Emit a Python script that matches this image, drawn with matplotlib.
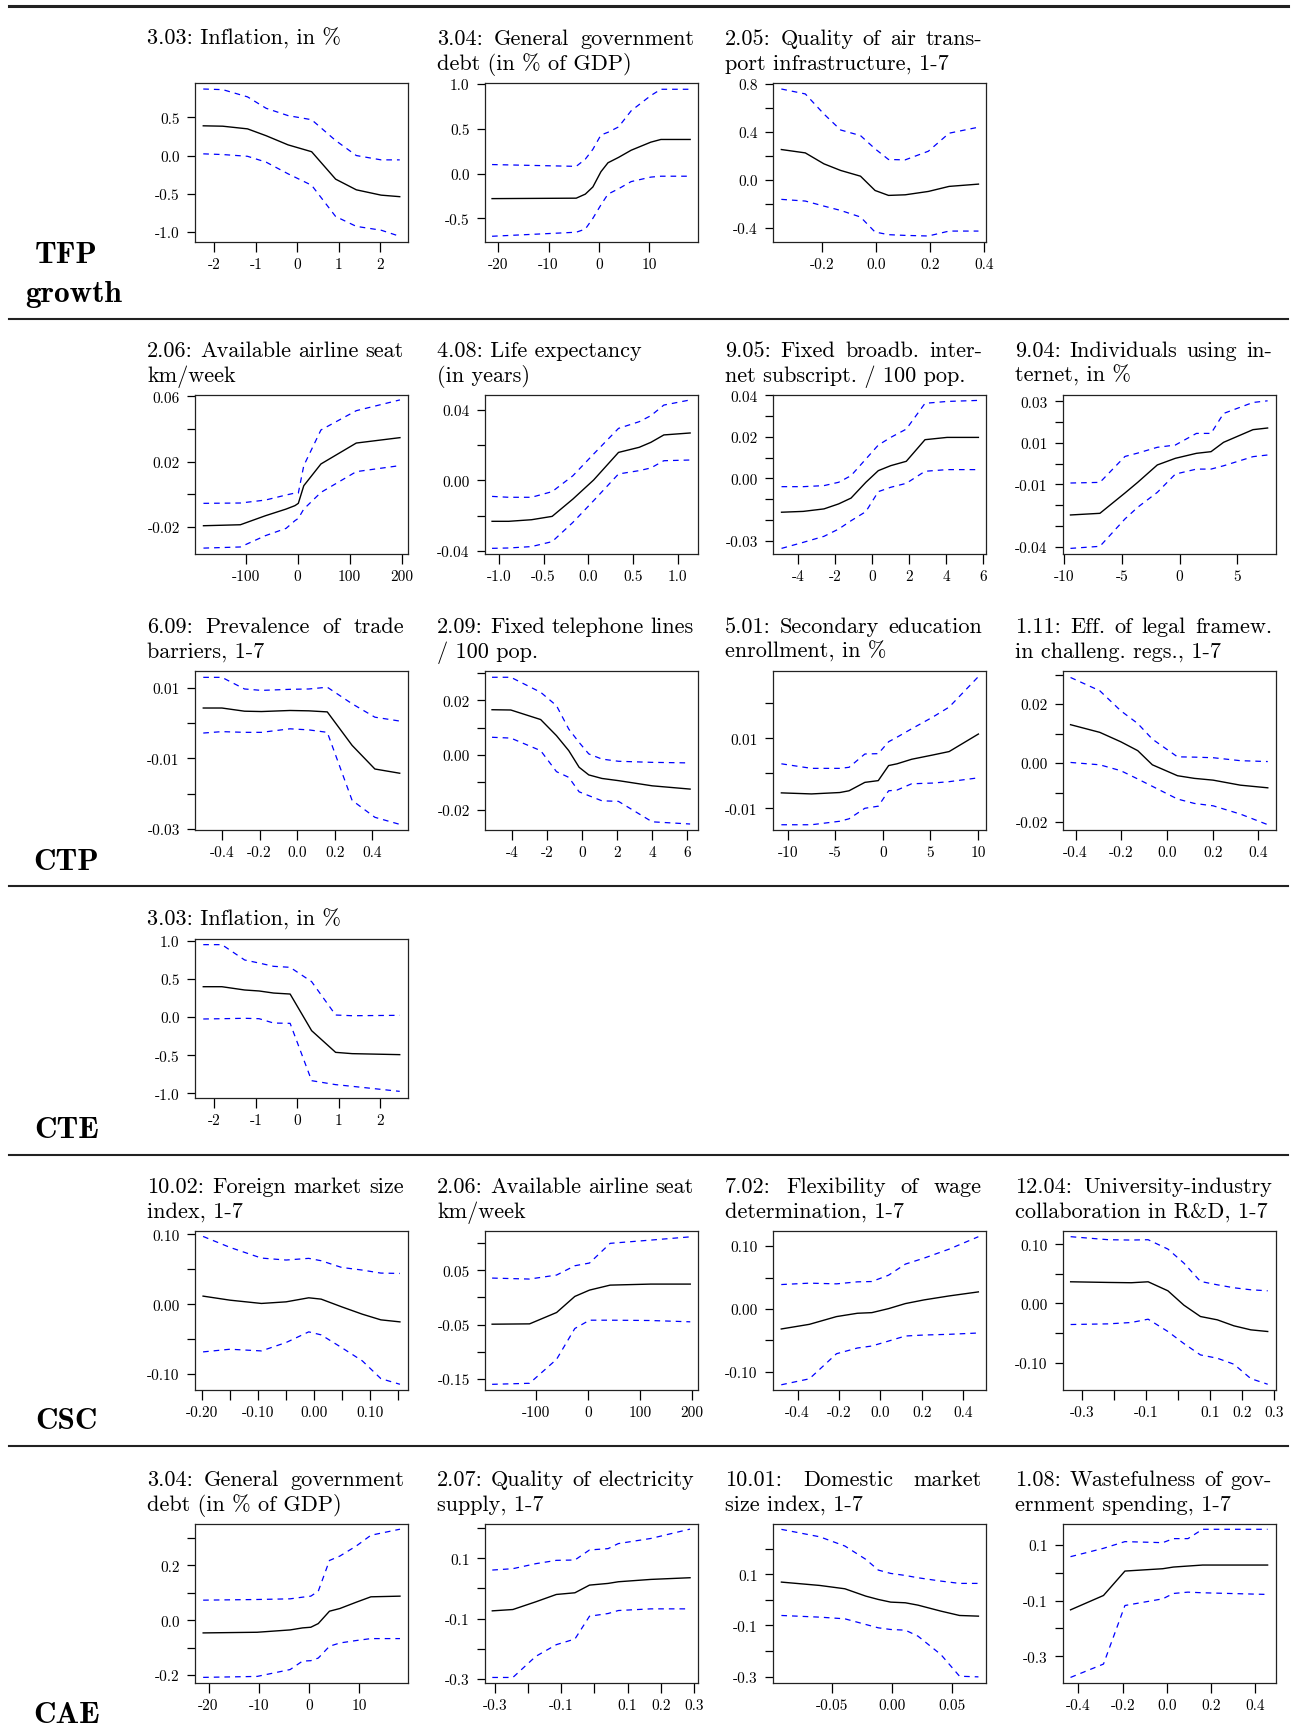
import matplotlib.pyplot as plt
from matplotlib.lines import Line2D

plt.rcParams['font.family'] = 'cmr10'
plt.rcParams['axes.unicode_minus'] = False

W, H = 1295, 1733

# ---------------- data ----------------
# TFP growth
tfp_inf_x = [-2.27, -1.8, -1.2, -0.75, -0.22, 0.35, 0.93, 1.43, 2.03, 2.48]
tfp_inf_mid = [0.39, 0.385, 0.35, 0.26, 0.14, 0.05, -0.31, -0.45, -0.52, -0.54]
tfp_inf_up = [0.873, 0.865, 0.77, 0.62, 0.524, 0.47, 0.197, 0.0, -0.057, -0.057]
tfp_inf_lo = [0.022, 0.013, -0.01, -0.087, -0.24, -0.39, -0.80, -0.93, -0.98, -1.06]

tfp_debt_x = [-21.2, -4.5, -2.7, -1.2, 0.4, 1.8, 3.9, 6.4, 10.3, 12.3, 18.1]
tfp_debt_mid = [-0.28, -0.275, -0.23, -0.15, 0.02, 0.12, 0.18, 0.26, 0.35, 0.38, 0.38]
tfp_debt_up = [0.10, 0.08, 0.16, 0.27, 0.43, 0.46, 0.52, 0.70, 0.87, 0.94, 0.94]
tfp_debt_lo = [-0.70, -0.655, -0.62, -0.50, -0.35, -0.23, -0.17, -0.09, -0.04, -0.03, -0.03]

tfp_air_x = [-0.352, -0.263, -0.194, -0.132, -0.058, -0.004, 0.046, 0.108, 0.194, 0.271, 0.38]
tfp_air_mid = [0.252, 0.224, 0.133, 0.078, 0.030, -0.089, -0.130, -0.125, -0.097, -0.055, -0.036]
tfp_air_up = [0.756, 0.715, 0.548, 0.415, 0.368, 0.258, 0.169, 0.166, 0.238, 0.388, 0.438]
tfp_air_lo = [-0.163, -0.177, -0.219, -0.255, -0.31, -0.435, -0.457, -0.463, -0.468, -0.427, -0.427]

# CTP
ctp_seat_x = [-181, -110, -62, -22, -5, 1.5, 12, 45, 113, 197]
ctp_seat_mid = [-0.0192, -0.0186, -0.0131, -0.009, -0.0069, -0.0055, 0.0053, 0.0186, 0.0314, 0.0347]
ctp_seat_up = [-0.0055, -0.0053, -0.0035, -0.0004, 0.0008, 0.0008, 0.0176, 0.0394, 0.0512, 0.0578]
ctp_seat_lo = [-0.0329, -0.0322, -0.0253, -0.0208, -0.0161, -0.0147, -0.009, 0.0012, 0.0139, 0.0176]

ctp_life_x = [-1.076, -0.89, -0.635, -0.404, -0.172, 0.06, 0.338, 0.57, 0.70, 0.845, 1.139]
ctp_life_mid = [-0.0232, -0.0232, -0.0223, -0.0204, -0.0106, 0.0002, 0.0158, 0.0187, 0.0215, 0.0257, 0.0268]
ctp_life_up = [-0.0091, -0.0096, -0.0096, -0.0064, 0.0026, 0.0149, 0.0294, 0.0332, 0.0366, 0.0426, 0.0455]
ctp_life_lo = [-0.0385, -0.0383, -0.0375, -0.0347, -0.0238, -0.0115, 0.0036, 0.0055, 0.007, 0.0111, 0.0115]

ctp_bb_x = [-4.88, -3.71, -2.59, -1.80, -1.13, -0.33, 0.34, 1.01, 1.85, 2.86, 4.05, 5.74]
ctp_bb_mid = [-0.0163, -0.0159, -0.0147, -0.0123, -0.0095, -0.0019, 0.0037, 0.0061, 0.0082, 0.0186, 0.0197, 0.0197]
ctp_bb_up = [-0.004, -0.004, -0.0035, -0.0019, 0.0013, 0.0093, 0.016, 0.0197, 0.0237, 0.0361, 0.037, 0.0375]
ctp_bb_lo = [-0.0337, -0.0308, -0.0279, -0.0244, -0.0204, -0.016, -0.0064, -0.0043, -0.0024, 0.0034, 0.0042, 0.0042]

ctp_net_x = [-9.48, -6.92, -4.74, -3.64, -1.93, -0.36, 1.47, 2.74, 3.83, 6.39, 7.66]
ctp_net_mid = [-0.0247, -0.0239, -0.0141, -0.009, -0.0006, 0.0026, 0.005, 0.0058, 0.0103, 0.0164, 0.0172]
ctp_net_up = [-0.0093, -0.009, 0.0035, 0.0051, 0.0079, 0.009, 0.0146, 0.0146, 0.0242, 0.0295, 0.0303]
ctp_net_lo = [-0.0408, -0.0398, -0.0266, -0.021, -0.0138, -0.005, -0.0026, -0.0026, -0.001, 0.0034, 0.0042]

ctp_trade_x = [-0.499, -0.40, -0.28, -0.19, -0.038, 0.062, 0.16, 0.292, 0.413, 0.545]
ctp_trade_mid = [0.0043, 0.0043, 0.0034, 0.0033, 0.0036, 0.0035, 0.0032, -0.0063, -0.013, -0.0142]
ctp_trade_up = [0.013, 0.013, 0.0097, 0.0093, 0.0096, 0.0097, 0.0102, 0.0055, 0.0017, 0.0006]
ctp_trade_lo = [-0.0028, -0.0024, -0.0026, -0.0026, -0.0016, -0.0019, -0.0026, -0.0219, -0.0267, -0.0287]

ctp_tel_x = [-5.13, -4.06, -2.36, -1.46, -0.76, -0.17, 0.38, 1.13, 2.07, 3.99, 6.15]
ctp_tel_mid = [0.0166, 0.0165, 0.013, 0.0071, 0.0016, -0.0045, -0.0073, -0.0086, -0.0094, -0.0113, -0.0125]
ctp_tel_up = [0.0285, 0.0285, 0.023, 0.0181, 0.0095, 0.0046, 0.0004, -0.0015, -0.0023, -0.0027, -0.0029]
ctp_tel_lo = [0.0065, 0.0062, 0.0016, -0.0061, -0.0082, -0.0135, -0.0149, -0.0168, -0.017, -0.0245, -0.0253]

ctp_edu_x = [-10.66, -7.5, -4.52, -3.55, -1.89, -0.48, 0.61, 1.49, 3.03, 5.22, 6.97, 10.04]
ctp_edu_mid = [-0.0056, -0.0059, -0.0055, -0.005, -0.0026, -0.0021, 0.0022, 0.0027, 0.004, 0.0052, 0.0062, 0.0112]
ctp_edu_up = [0.0027, 0.0014, 0.0014, 0.0017, 0.0055, 0.0056, 0.009, 0.0103, 0.0127, 0.016, 0.0189, 0.0276]
ctp_edu_lo = [-0.0147, -0.0147, -0.0137, -0.013, -0.01, -0.0094, -0.005, -0.0048, -0.003, -0.0028, -0.0024, -0.0013]

ctp_legal_x = [-0.422, -0.294, -0.202, -0.128, -0.064, 0.046, 0.12, 0.202, 0.321, 0.441]
ctp_legal_mid = [0.013, 0.0104, 0.0072, 0.0042, -0.0006, -0.0043, -0.0052, -0.0058, -0.0075, -0.0084]
ctp_legal_up = [0.029, 0.0245, 0.0177, 0.0134, 0.0081, 0.0021, 0.002, 0.0018, 0.0008, 0.0005]
ctp_legal_lo = [0.0002, -0.0006, -0.0026, -0.0054, -0.0079, -0.0122, -0.0137, -0.0145, -0.0173, -0.0209]

# CTE
cte_inf_x = [-2.27, -1.82, -1.27, -0.92, -0.57, -0.17, 0.35, 0.93, 1.33, 2.48]
cte_inf_mid = [0.397, 0.397, 0.354, 0.341, 0.314, 0.301, -0.179, -0.463, -0.48, -0.493]
cte_inf_up = [0.948, 0.948, 0.747, 0.707, 0.664, 0.651, 0.463, 0.026, 0.017, 0.022]
cte_inf_lo = [-0.026, -0.022, -0.017, -0.022, -0.079, -0.083, -0.834, -0.886, -0.908, -0.974]

# CSC
csc_fms_x = [-0.198, -0.150, -0.094, -0.05, -0.0096, 0.0125, 0.049, 0.086, 0.119, 0.153]
csc_fms_mid = [0.0115, 0.0057, 0.001, 0.0033, 0.0091, 0.0072, -0.0038, -0.0144, -0.0225, -0.0254]
csc_fms_up = [0.097, 0.0813, 0.066, 0.0632, 0.0656, 0.0622, 0.0526, 0.0488, 0.0445, 0.044]
csc_fms_lo = [-0.0684, -0.0646, -0.067, -0.055, -0.0397, -0.044, -0.0622, -0.0813, -0.1067, -0.1148]

csc_seat_x = [-184, -112, -60, -25, 3.3, 43, 121, 197]
csc_seat_mid = [-0.0494, -0.0488, -0.0278, 0.0019, 0.0136, 0.0228, 0.0247, 0.0247]
csc_seat_up = [0.0358, 0.034, 0.0414, 0.0586, 0.0636, 0.1, 0.106, 0.112]
csc_seat_lo = [-0.1605, -0.1586, -0.1142, -0.0574, -0.042, -0.042, -0.0426, -0.045]

csc_wage_x = [-0.479, -0.343, -0.212, -0.111, -0.041, 0.04, 0.121, 0.212, 0.333, 0.474]
csc_wage_mid = [-0.0319, -0.0245, -0.0122, -0.0069, -0.0059, 0.0005, 0.0085, 0.0144, 0.0207, 0.0271]
csc_wage_up = [0.0388, 0.041, 0.0399, 0.0431, 0.0436, 0.0537, 0.0713, 0.0809, 0.0952, 0.1149]
csc_wage_lo = [-0.1207, -0.1112, -0.0713, -0.0622, -0.059, -0.0511, -0.0431, -0.0415, -0.0404, -0.0383]

csc_uni_x = [-0.337, -0.219, -0.147, -0.094, -0.032, 0.018, 0.07, 0.123, 0.175, 0.228, 0.281]
csc_uni_mid = [0.0366, 0.0355, 0.035, 0.0366, 0.0214, -0.0028, -0.022, -0.0276, -0.0377, -0.0445, -0.0473]
csc_uni_up = [0.1127, 0.1076, 0.107, 0.1076, 0.0918, 0.0682, 0.0372, 0.0315, 0.0265, 0.0231, 0.0214]
csc_uni_lo = [-0.0355, -0.0344, -0.0321, -0.0265, -0.0473, -0.0676, -0.0868, -0.0924, -0.1025, -0.1268, -0.1363]

# CAE
cae_debt_x = [-21.07, -10.3, -3.72, -1.24, 0.41, 1.9, 4.13, 6.2, 9.5, 12.4, 18.2]
cae_debt_mid = [-0.0463, -0.0439, -0.0354, -0.028, -0.0256, -0.0122, 0.0329, 0.0427, 0.0659, 0.0854, 0.0878]
cae_debt_up = [0.0732, 0.0756, 0.078, 0.0841, 0.0878, 0.106, 0.218, 0.234, 0.271, 0.31, 0.332]
cae_debt_lo = [-0.2085, -0.205, -0.18, -0.149, -0.1476, -0.138, -0.095, -0.083, -0.074, -0.067, -0.067]

cae_elec_x = [-0.308, -0.246, -0.177, -0.115, -0.059, -0.015, 0.041, 0.072, 0.17, 0.288]
cae_elec_mid = [-0.0744, -0.07, -0.0444, -0.02, -0.0144, 0.0111, 0.0167, 0.0222, 0.03, 0.0356]
cae_elec_up = [0.0611, 0.0656, 0.0822, 0.0933, 0.0944, 0.1278, 0.1322, 0.149, 0.166, 0.197]
cae_elec_lo = [-0.2956, -0.2956, -0.2256, -0.1867, -0.168, -0.0922, -0.0833, -0.0733, -0.0678, -0.0678]

cae_dms_x = [-0.0917, -0.0598, -0.0389, -0.0215, -0.0111, -0.0008, 0.0114, 0.0219, 0.041, 0.0565, 0.0722]
cae_dms_mid = [0.0691, 0.056, 0.043, 0.0143, 0.0013, -0.0091, -0.0117, -0.0209, -0.0443, -0.0613, -0.0639]
cae_dms_up = [0.275, 0.246, 0.21, 0.158, 0.116, 0.103, 0.095, 0.086, 0.073, 0.064, 0.064]
cae_dms_lo = [-0.0613, -0.0678, -0.0743, -0.0965, -0.1095, -0.116, -0.1186, -0.142, -0.214, -0.2986, -0.301]

cae_waste_x = [-0.436, -0.287, -0.19, -0.019, 0.029, 0.095, 0.161, 0.455]
cae_waste_mid = [-0.1333, -0.0817, 0.006, 0.0144, 0.0204, 0.024, 0.0276, 0.0276]
cae_waste_up = [0.0577, 0.0877, 0.1117, 0.108, 0.1225, 0.1225, 0.156, 0.156]
cae_waste_lo = [-0.376, -0.328, -0.1177, -0.0937, -0.0745, -0.0697, -0.072, -0.078]

# tick sets and labels ('' = tick without label)
t_inf = [-2, -1, 0, 1, 2]
l_inf = ['-2', '-1', '0', '1', '2']
t_debt = [-20, -10, 0, 10]
l_debt = ['-20', '-10', '0', '10']
t_seat = [-100, 0, 100, 200]
l_seat = ['-100', '0', '100', '200']
t_04 = [-0.4, -0.2, 0.0, 0.2, 0.4]
l_04 = ['-0.4', '-0.2', '0.0', '0.2', '0.4']
t_03 = [-0.3, -0.2, -0.1, 0.0, 0.1, 0.2, 0.3]
l_03 = ['-0.3', '', '-0.1', '', '0.1', '0.2', '0.3']

# (row, col, title lines, x, mid, up, lo, xlim, ylim, xticks, xlabels, yticks, ylabels)
panels = [
    (0, 0, ['3.03: Inflation, in %'], tfp_inf_x, tfp_inf_mid, tfp_inf_up, tfp_inf_lo,
     (-2.47, 2.68), (-1.135, 0.952), t_inf, l_inf,
     [-1.0, -0.5, 0.0, 0.5], ['-1.0', '-0.5', '0.0', '0.5']),
    (0, 1, ['3.04: General government', 'debt (in % of GDP)'], tfp_debt_x, tfp_debt_mid, tfp_debt_up, tfp_debt_lo,
     (-22.6, 19.66), (-0.764, 1.01), t_debt, l_debt,
     [-0.5, 0.0, 0.5, 1.0], ['-0.5', '0.0', '0.5', '1.0']),
    (0, 2, ['2.05: Quality of air trans-', 'port infrastructure, 1-7'], tfp_air_x, tfp_air_mid, tfp_air_up, tfp_air_lo,
     (-0.383, 0.408), (-0.518, 0.806), [-0.2, 0.0, 0.2, 0.4], ['-0.2', '0.0', '0.2', '0.4'],
     [-0.4, -0.2, 0.0, 0.2, 0.4, 0.6, 0.8], ['-0.4', '', '0.0', '', '0.4', '', '0.8']),
    (1, 0, ['2.06: Available airline seat', 'km/week'], ctp_seat_x, ctp_seat_mid, ctp_seat_up, ctp_seat_lo,
     (-197.3, 212.5), (-0.0365, 0.0608), t_seat, l_seat,
     [-0.02, 0.0, 0.02, 0.04, 0.06], ['-0.02', '', '0.02', '', '0.06']),
    (1, 1, ['4.08: Life expectancy', '(in years)'], ctp_life_x, ctp_life_mid, ctp_life_up, ctp_life_lo,
     (-1.155, 1.227), (-0.0417, 0.0483), [-1.0, -0.5, 0.0, 0.5, 1.0], ['-1.0', '-0.5', '0.0', '0.5', '1.0'],
     [-0.04, -0.02, 0.0, 0.02, 0.04], ['-0.04', '', '0.00', '', '0.04']),
    (1, 2, ['9.05: Fixed broadb. inter-', 'net subscript. / 100 pop.'], ctp_bb_x, ctp_bb_mid, ctp_bb_up, ctp_bb_lo,
     (-5.34, 6.15), (-0.0364, 0.0401), [-4, -2, 0, 2, 4, 6], ['-4', '-2', '0', '2', '4', '6'],
     [-0.03, -0.02, -0.01, 0.0, 0.01, 0.02, 0.03, 0.04], ['-0.03', '', '', '0.00', '', '0.02', '', '0.04']),
    (1, 3, ['9.04: Individuals using in-', 'ternet, in %'], ctp_net_x, ctp_net_mid, ctp_net_up, ctp_net_lo,
     (-10.13, 8.39), (-0.0435, 0.0331), [-10, -5, 0, 5], ['-10', '-5', '0', '5'],
     [-0.04, -0.03, -0.02, -0.01, 0.0, 0.01, 0.02, 0.03], ['-0.04', '', '', '-0.01', '', '0.01', '', '0.03']),
    (2, 0, ['6.09: Prevalence of trade', 'barriers, 1-7'], ctp_trade_x, ctp_trade_mid, ctp_trade_up, ctp_trade_lo,
     (-0.543, 0.589), (-0.0303, 0.0148), t_04, l_04,
     [-0.03, -0.02, -0.01, 0.0, 0.01], ['-0.03', '', '-0.01', '', '0.01']),
    (2, 1, ['2.09: Fixed telephone lines', '/ 100 pop.'], ctp_tel_x, ctp_tel_mid, ctp_tel_up, ctp_tel_lo,
     (-5.53, 6.6), (-0.0275, 0.0308), [-4, -2, 0, 2, 4, 6], ['-4', '-2', '0', '2', '4', '6'],
     [-0.02, -0.01, 0.0, 0.01, 0.02, 0.03], ['-0.02', '', '0.00', '', '0.02', '']),
    (2, 2, ['5.01: Secondary education', 'enrollment, in %'], ctp_edu_x, ctp_edu_mid, ctp_edu_up, ctp_edu_lo,
     (-11.54, 10.84), (-0.0162, 0.0292), [-10, -5, 0, 5, 10], ['-10', '-5', '0', '5', '10'],
     [-0.01, 0.0, 0.01, 0.02], ['-0.01', '', '0.01', '']),
    (2, 3, ['1.11: Eff. of legal framew.', 'in challeng. regs., 1-7'], ctp_legal_x, ctp_legal_mid, ctp_legal_up, ctp_legal_lo,
     (-0.455, 0.477), (-0.0227, 0.0312), t_04, l_04,
     [-0.02, -0.01, 0.0, 0.01, 0.02, 0.03], ['-0.02', '', '0.00', '', '0.02', '']),
    (3, 0, ['3.03: Inflation, in %'], cte_inf_x, cte_inf_mid, cte_inf_up, cte_inf_lo,
     (-2.47, 2.68), (-1.061, 1.022), t_inf, l_inf,
     [-1.0, -0.5, 0.0, 0.5, 1.0], ['-1.0', '-0.5', '0.0', '0.5', '1.0']),
    (4, 0, ['10.02: Foreign market size', 'index, 1-7'], csc_fms_x, csc_fms_mid, csc_fms_up, csc_fms_lo,
     (-0.2124, 0.1674), (-0.123, 0.1048),
     [-0.2, -0.15, -0.1, -0.05, 0.0, 0.05, 0.1, 0.15], ['-0.20', '', '-0.10', '', '0.00', '', '0.10', ''],
     [-0.1, -0.05, 0.0, 0.05, 0.1], ['-0.10', '', '0.00', '', '0.10']),
    (4, 1, ['2.06: Available airline seat', 'km/week'], csc_seat_x, csc_seat_mid, csc_seat_up, csc_seat_lo,
     (-197.7, 211.9), (-0.171, 0.1228), t_seat, l_seat,
     [-0.15, -0.1, -0.05, 0.0, 0.05, 0.1], ['-0.15', '', '-0.05', '', '0.05', '']),
    (4, 2, ['7.02: Flexibility of wage', 'determination, 1-7'], csc_wage_x, csc_wage_mid, csc_wage_up, csc_wage_lo,
     (-0.519, 0.511), (-0.129, 0.124), t_04, l_04,
     [-0.1, -0.05, 0.0, 0.05, 0.1], ['-0.10', '', '0.00', '', '0.10']),
    (4, 3, ['12.04: University-industry', 'collaboration in R&D, 1-7'], csc_uni_x, csc_uni_mid, csc_uni_up, csc_uni_lo,
     (-0.361, 0.307), (-0.146, 0.1223), t_03, l_03,
     [-0.1, -0.05, 0.0, 0.05, 0.1], ['-0.10', '', '0.00', '', '0.10']),
    (5, 0, ['3.04: General government', 'debt (in % of GDP)'], cae_debt_x, cae_debt_mid, cae_debt_up, cae_debt_lo,
     (-22.7, 19.8), (-0.229, 0.351), t_debt, l_debt,
     [-0.2, -0.1, 0.0, 0.1, 0.2, 0.3], ['-0.2', '', '0.0', '', '0.2', '']),
    (5, 1, ['2.07: Quality of electricity', 'supply, 1-7'], cae_elec_x, cae_elec_mid, cae_elec_up, cae_elec_lo,
     (-0.33, 0.312), (-0.314, 0.214), t_03, l_03,
     [-0.3, -0.2, -0.1, 0.0, 0.1, 0.2], ['-0.3', '', '-0.1', '', '0.1', '']),
    (5, 2, ['10.01: Domestic market', 'size index, 1-7'], cae_dms_x, cae_dms_mid, cae_dms_up, cae_dms_lo,
     (-0.0987, 0.0785), (-0.325, 0.296), [-0.05, 0.0, 0.05], ['-0.05', '0.00', '0.05'],
     [-0.3, -0.2, -0.1, 0.0, 0.1, 0.2], ['-0.3', '', '-0.1', '', '0.1', '']),
    (5, 3, ['1.08: Wastefulness of gov-', 'ernment spending, 1-7'], cae_waste_x, cae_waste_mid, cae_waste_up, cae_waste_lo,
     (-0.47, 0.493), (-0.396, 0.175), t_04, l_04,
     [-0.3, -0.2, -0.1, 0.0, 0.1], ['-0.3', '', '-0.1', '', '0.1']),
]
no_justify = {'4.08: Life expectancy'}

# ---------------- layout (pixels) ----------------
col_left = [195, 485, 773, 1063]
row_top = [84, 396, 672, 940, 1232, 1525]
title_base = [45, 357, 633, 926, 1193, 1486]   # baseline of first title line per row
BW, BH = 213, 159
TW = 257          # justified title width
TFS = 16          # title font size

fig = plt.figure(figsize=(W / 100, H / 100), dpi=100)
renderer = fig.canvas.get_renderer()


def title_line(x0, ybase, text, justify):
    words = text.split(' ')
    if not justify or len(words) == 1:
        fig.text(x0 / W, 1 - ybase / H, text, fontsize=TFS, va='baseline', ha='left')
        return
    ts = [fig.text(0, 1 - ybase / H, w, fontsize=TFS, va='baseline', ha='left') for w in words]
    ws = [t.get_window_extent(renderer).width for t in ts]
    gap = (TW - sum(ws)) / (len(words) - 1)
    xx = x0
    for t, w in zip(ts, ws):
        t.set_x(xx / W)
        xx += w + gap


for (r, c, title, x, mid, up, lo, xlim, ylim, xt, xl, yt, yl) in panels:
    left, top = col_left[c], row_top[r]
    ax = fig.add_axes([left / W, 1 - (top + BH) / H, BW / W, BH / H])
    ax.plot(x, up, color='#0000ff', lw=0.9, ls=(0, (4.5, 4)))
    ax.plot(x, lo, color='#0000ff', lw=0.9, ls=(0, (4.5, 4)))
    ax.plot(x, mid, color='black', lw=1.0)
    ax.set_xlim(xlim)
    ax.set_ylim(ylim)
    ax.set_xticks(xt, xl)
    ax.set_yticks(yt, yl)
    ax.tick_params(axis='x', length=7, width=0.9, pad=4, labelsize=11)
    ax.tick_params(axis='y', length=6, width=0.9, pad=5, labelsize=11)
    for s in ax.spines.values():
        s.set_linewidth(0.9)
        s.set_color('#222222')

    n = len(title)
    for i, line in enumerate(title):
        ybase = title_base[r] + 25 * i
        justify = (i < n - 1) and (line not in no_justify)
        title_line(left - 48, ybase, line, justify)

# row labels
labels = [('TFP', 35, 263), ('growth', 25, 302), ('CTP', 33, 870), ('CTE', 34, 1138),
          ('CSC', 35, 1429), ('CAE', 33, 1723)]
for txt, lx, ly in labels:
    fig.text(lx / W, 1 - ly / H, txt, fontsize=22.5, family='cmb10', va='baseline', ha='left')

# horizontal rules
for yy, lw in [(7, 2.2), (320, 1.5), (887, 1.5), (1156, 1.5), (1447, 1.5)]:
    fig.add_artist(Line2D([9 / W, 1288 / W], [1 - yy / H, 1 - yy / H],
                          transform=fig.transFigure, color='#222222', lw=lw))

fig.savefig('out.png', dpi=100)
